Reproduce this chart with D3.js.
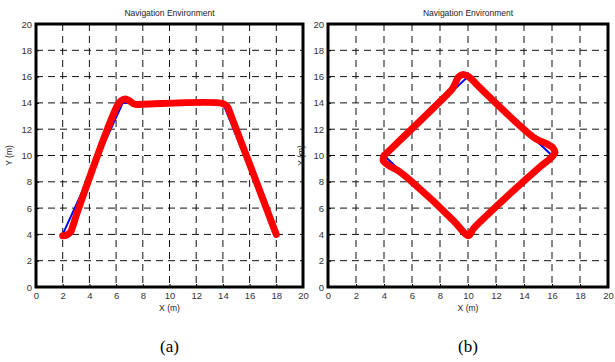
<!DOCTYPE html>
<html lang="en">
<head>
<meta charset="UTF-8"/>
<title>Navigation Environment</title>
<script src="https://d3js.org/d3.v7.min.js"></script>
<style>
  body { margin: 0; background: white; }
  svg { display: block; }
  .tick text { font-family: "Liberation Sans", Arial, sans-serif; font-size: 9.5px; fill: #333; }
</style>
</head>
<body>
<script>
// tick labels
var ticks = [0, 2, 4, 6, 8, 10, 12, 14, 16, 18, 20];

// (a) reference path (blue) and actual trajectory (red)
var refAx = [2, 6.5, 14, 18];
var refAy = [4, 14, 14, 4];
var trkAx = [2, 2.3, 2.6, 2.75, 3.2, 6.1, 6.35, 6.7, 7.0, 7.4, 8, 14, 14.35, 14.55, 18];
var trkAy = [3.9, 3.95, 4.2, 4.6, 6, 13.8, 14.15, 14.3, 14.15, 13.9, 13.9, 13.95, 13.7, 13.2, 4];

// (b) reference path (blue) and actual trajectory (red)
var refBx = [4, 10, 16, 10, 4];
var refBy = [10, 16, 10, 4, 10];
var trkBx = [4.0, 4.5, 8, 8.9, 9.1, 9.3, 9.6, 9.95, 10.3, 11, 14.8, 15.6, 16.05, 16.2, 15.9, 15, 11, 10.4, 10.05, 9.8, 9, 6, 5, 4.4, 3.95, 4.0];
var trkBy = [10.0, 10.5, 14.1, 15.1, 15.5, 15.95, 16.15, 16.05, 15.75, 15, 11.3, 10.9, 10.6, 10.2, 9.8, 9, 5.1, 4.45, 3.9, 4.05, 5, 8, 8.85, 9.2, 9.6, 10.0];

var W = 615, H = 362;
var svg = d3.select("body").append("svg").attr("width", W).attr("height", H);

function panel(x0, x1, refX, refY, trkX, trkY, label) {
  var y0 = 24, y1 = 287;
  var xScale = d3.scaleLinear().domain([0, 20]).range([x0, x1]);
  var yScale = d3.scaleLinear().domain([0, 20]).range([y1, y0]);
  var g = svg.append("g");

  // dashed grid
  g.selectAll(".gx").data(ticks.slice(1, -1)).enter().append("line")
    .attr("x1", d => xScale(d)).attr("x2", d => xScale(d))
    .attr("y1", y0).attr("y2", y1)
    .attr("stroke", "#111").attr("stroke-width", 1).attr("stroke-dasharray", "7,5");
  g.selectAll(".gy").data(ticks.slice(1, -1)).enter().append("line")
    .attr("y1", d => yScale(d)).attr("y2", d => yScale(d))
    .attr("x1", x0).attr("x2", x1)
    .attr("stroke", "#111").attr("stroke-width", 1).attr("stroke-dasharray", "7,5");

  var line = d3.line().x(d => xScale(d[0])).y(d => yScale(d[1]));

  g.append("path")
    .attr("d", line(refX.map((v, i) => [v, refY[i]])))
    .attr("fill", "none").attr("stroke", "#0000ff").attr("stroke-width", 2);

  g.append("path")
    .attr("d", line.curve(d3.curveCatmullRom)(trkX.map((v, i) => [v, trkY[i]])))
    .attr("fill", "none").attr("stroke", "#ff0000").attr("stroke-width", 7)
    .attr("stroke-linejoin", "round").attr("stroke-linecap", "round");

  // axes
  g.append("g").attr("transform", "translate(0," + y1 + ")")
    .call(d3.axisBottom(xScale).tickValues(ticks).tickSize(-3).tickPadding(5))
    .call(a => a.select(".domain").remove())
    .call(a => a.selectAll("line").attr("stroke", "#000"));
  g.append("g").attr("transform", "translate(" + x0 + ",0)")
    .call(d3.axisLeft(yScale).tickValues(ticks).tickSize(-3).tickPadding(4))
    .call(a => a.select(".domain").remove())
    .call(a => a.selectAll("line").attr("stroke", "#000"));

  // frame
  g.append("rect").attr("x", x0).attr("y", y0)
    .attr("width", x1 - x0).attr("height", y1 - y0)
    .attr("fill", "none").attr("stroke", "#000").attr("stroke-width", 3);

  var cx = (x0 + x1) / 2;
  g.append("text").attr("x", cx).attr("y", 16).attr("text-anchor", "middle")
    .style("font-family", "Liberation Sans, Arial, sans-serif").style("font-size", "8.5px").attr("fill", "#222")
    .text("Navigation Environment");
  g.append("text").attr("x", cx).attr("y", 311).attr("text-anchor", "middle")
    .style("font-family", "Liberation Sans, Arial, sans-serif").style("font-size", "8.5px").attr("fill", "#222")
    .text("X (m)");
  g.append("text").attr("transform", "translate(" + (x0 - 24) + "," + ((y0 + y1) / 2) + ") rotate(-90)")
    .attr("text-anchor", "middle")
    .style("font-family", "Liberation Sans, Arial, sans-serif").style("font-size", "8.5px").attr("fill", "#222")
    .text("Y (m)");
  g.append("text").attr("x", cx).attr("y", 352).attr("text-anchor", "middle")
    .style("font-family", "Liberation Serif, Times New Roman, serif").style("font-size", "17px").attr("fill", "#000")
    .text(label);
}

panel(36, 303, refAx, refAy, trkAx, trkAy, "(a)");
panel(328, 608, refBx, refBy, trkBx, trkBy, "(b)");
</script>
</body>
</html>
